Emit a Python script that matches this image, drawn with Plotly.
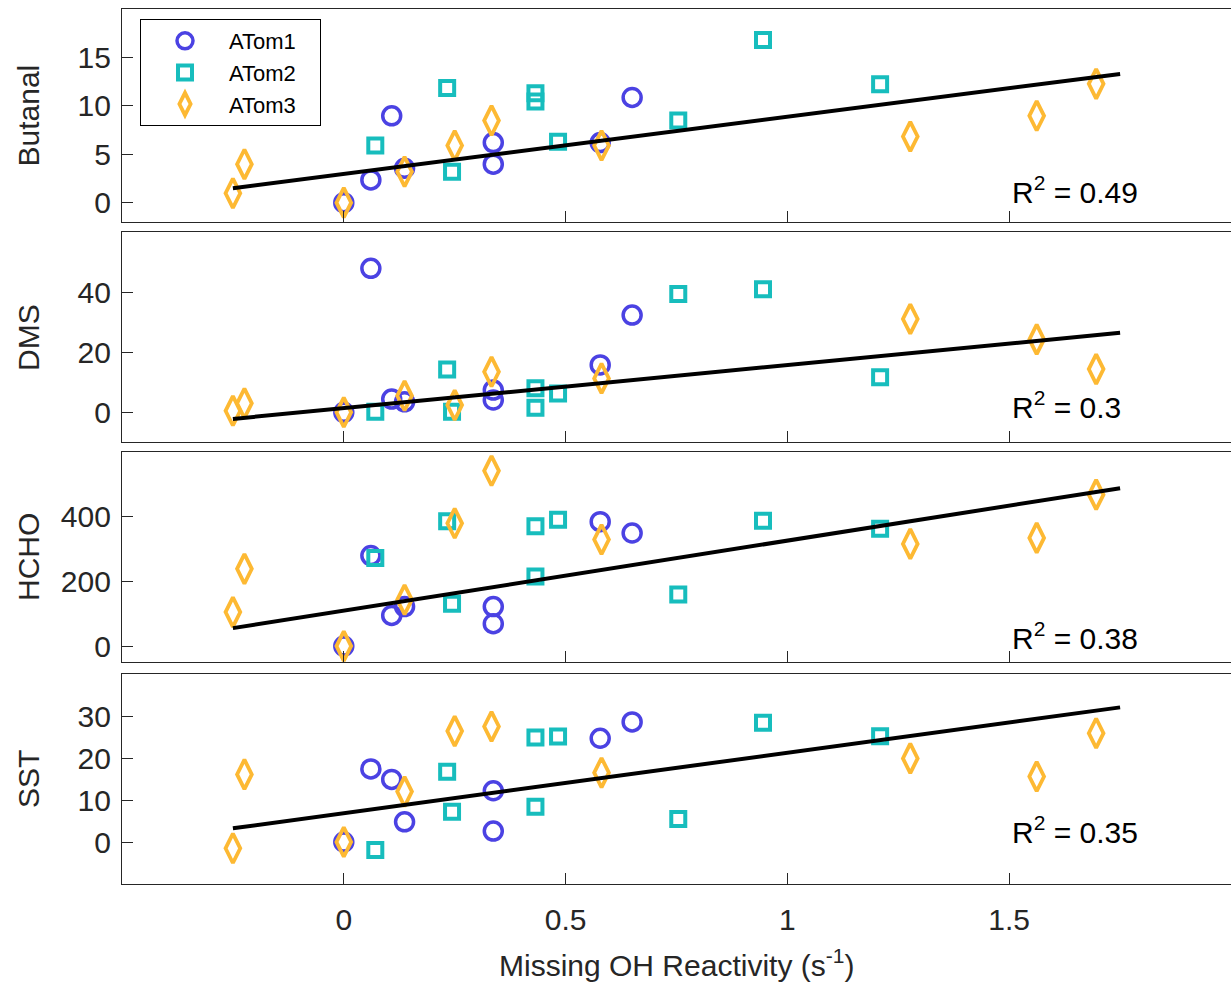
import plotly.graph_objects as go

# ---------------- data ----------------
x_atom1 = [0.0, 0.061, 0.108, 0.137, 0.337, 0.337, 0.578, 0.650]
x_atom2 = [0.071, 0.233, 0.244, 0.432, 0.432, 0.483, 0.754, 0.945, 1.209]
x_atom3 = [-0.250, -0.224, 0.0, 0.137, 0.250, 0.333, 0.581, 1.277, 1.562, 1.696]

butanal_atom1 = [0, 2.35, 8.97, 3.55, 6.2, 3.97, 6.2, 10.86]
butanal_atom2 = [5.9, 11.83, 3.2, 11.3, 10.45, 6.3, 8.48, 16.8, 12.24]
butanal_atom3 = [0.97, 3.97, 0, 3.2, 5.9, 8.48, 5.9, 6.83, 8.97, 12.27]

dms_atom1 = [0, 48, 4.4, 3.5, 7.4, 4.1, 15.8, 32.4]
dms_atom2 = [0.2, 14.3, 0.2, 8.0, 1.5, 6.3, 39.4, 41, 11.7]
dms_atom3 = [0.5, 3, 0, 5.5, 2.4, 13.5, 11.3, 31.1, 24.3, 14.4]

hcho_atom1 = [0, 279.5, 94.6, 122, 122, 69, 384, 349]
hcho_atom2 = [272, 385, 130.6, 370, 215, 390, 159, 387, 362]
hcho_atom3 = [105, 238.5, 0, 143, 379, 541, 329, 315.5, 334, 467.5]

sst_atom1 = [0, 17.4, 14.9, 4.8, 12.2, 2.6, 24.7, 28.6]
sst_atom2 = [-1.9, 16.7, 7.2, 24.9, 8.4, 25.1, 5.5, 28.4, 25.2]
sst_atom3 = [-1.5, 16.1, 0, 12, 26.4, 27.5, 16.5, 19.9, 15.6, 25.9]

panel_names = ["Butanal", "DMS", "HCHO", "SST"]
fit_slopes = [5.9, 14.35, 216.0, 14.4]
fit_intercepts = [2.97, 1.39, 109.5, 6.85]
fit_x_range = [-0.25, 1.75]
r2_labels = ["0.49", "0.3", "0.38", "0.35"]
r2_y = [1.3, 2.4, 30, 2.9]

y_ranges = [[-2, 20], [-10, 60.2], [-50, 600], [-10, 40]]
y_ticks = [[0, 5, 10, 15], [0, 20, 40], [0, 200, 400], [0, 10, 20, 30]]
x_ticks = [0, 0.5, 1, 1.5]
x_tick_labels = ["0", "0.5", "1", "1.5"]
x_range = [-0.5, 2.0]

series_names = ["ATom1", "ATom2", "ATom3"]
panel_data = [
    [butanal_atom1, butanal_atom2, butanal_atom3],
    [dms_atom1, dms_atom2, dms_atom3],
    [hcho_atom1, hcho_atom2, hcho_atom3],
    [sst_atom1, sst_atom2, sst_atom3],
]
series_x = [x_atom1, x_atom2, x_atom3]

# ---------------- style ----------------
colors = ["#4B42E3", "#17BDBD", "#FDB933"]
symbols = ["circle-open", "square-open", "diamond-tall-open"]
sizes = [18, 14, 21]
line_widths = [3.5, 4, 3.8]
FONT = "Liberation Sans, Arial, Helvetica, sans-serif"
AXC = "#262626"

W, H = 1231, 986
ML, MR, MT, MB = 122, 0, 9, 102
plot_h = H - MT - MB
# panel pixel extents (top, bottom)
panel_px = [(9, 222), (231.7, 442.3), (451.7, 662.3), (674, 884)]
domains = [[(H - MB - b) / plot_h, (H - MB - t) / plot_h] for t, b in panel_px]

fig = go.Figure()

for i in range(4):
    xa = "x" if i == 0 else f"x{i+1}"
    ya = "y" if i == 0 else f"y{i+1}"
    for s in range(3):
        fig.add_trace(go.Scatter(
            x=series_x[s], y=panel_data[i][s], mode="markers",
            name=series_names[s] + "\u00a0\u00a0\u00a0", legendgroup=series_names[s],
            showlegend=(i == 0),
            marker=dict(symbol=symbols[s], size=sizes[s], color=colors[s],
                        line=dict(width=line_widths[s], color=colors[s])),
            xaxis=xa, yaxis=ya, cliponaxis=False,
        ))
    fx = fit_x_range
    fy = [fit_slopes[i] * v + fit_intercepts[i] for v in fx]
    fig.add_trace(go.Scatter(
        x=fx, y=fy, mode="lines", line=dict(color="black", width=4),
        showlegend=False, xaxis=xa, yaxis=ya, hoverinfo="skip",
    ))
    fig.add_annotation(
        x=1.502, y=r2_y[i], xref=xa, yref=ya, xanchor="left", yanchor="middle",
        text=f"R<sup>2</sup> = {r2_labels[i]}", showarrow=False,
        font=dict(family=FONT, size=30, color="black"),
    )
    fig.add_annotation(
        x=(28 - ML) / (W - ML - MR), xref="paper",
        y=(domains[i][0] + domains[i][1]) / 2, yref="paper",
        text=panel_names[i], textangle=-90, showarrow=False,
        xanchor="center", yanchor="middle",
        font=dict(family=FONT, size=30, color=AXC),
    )

axis_common = dict(showline=True, mirror=True, linecolor=AXC, linewidth=1.3,
                   ticks="inside", ticklen=11, tickwidth=1.3, tickcolor=AXC,
                   showgrid=False, zeroline=False,
                   tickfont=dict(family=FONT, size=30, color=AXC))

layout = dict(
    width=W, height=H,
    margin=dict(l=ML, r=MR, t=MT, b=MB),
    plot_bgcolor="white", paper_bgcolor="white",
    showlegend=True,
    legend=dict(x=(140 - ML) / (W - ML - MR), y=(H - MB - 19) / plot_h,
                xanchor="left", yanchor="top",
                bordercolor="black", borderwidth=1, bgcolor="white",
                font=dict(family=FONT, size=22, color="black"),
                tracegroupgap=0, itemwidth=78),
)
for i in range(4):
    xk = "xaxis" if i == 0 else f"xaxis{i+1}"
    yk = "yaxis" if i == 0 else f"yaxis{i+1}"
    ya = "y" if i == 0 else f"y{i+1}"
    xa = "x" if i == 0 else f"x{i+1}"
    layout[xk] = dict(axis_common, domain=[0, 1], range=x_range, anchor=ya,
                      tickvals=x_ticks, ticktext=x_tick_labels,
                      showticklabels=(i == 3), ticklabelstandoff=9)
    if i > 0:
        layout[xk]["matches"] = "x"
    layout[yk] = dict(axis_common, domain=domains[i], range=y_ranges[i],
                      anchor=xa, tickvals=y_ticks[i], ticklabelstandoff=4)

fig.update_layout(**layout)
fig.add_annotation(
    x=0.5, xref="paper", y=(H - MB - 963) / plot_h, yref="paper",
    text="Missing OH Reactivity (s<sup>-1</sup>)", showarrow=False,
    xanchor="center", yanchor="middle",
    font=dict(family=FONT, size=30, color=AXC),
)

fig.write_html(
    "out.html",
    config={"displayModeBar": False},
    post_script="document.body.style.margin='0';document.body.style.overflow='hidden';",
)
